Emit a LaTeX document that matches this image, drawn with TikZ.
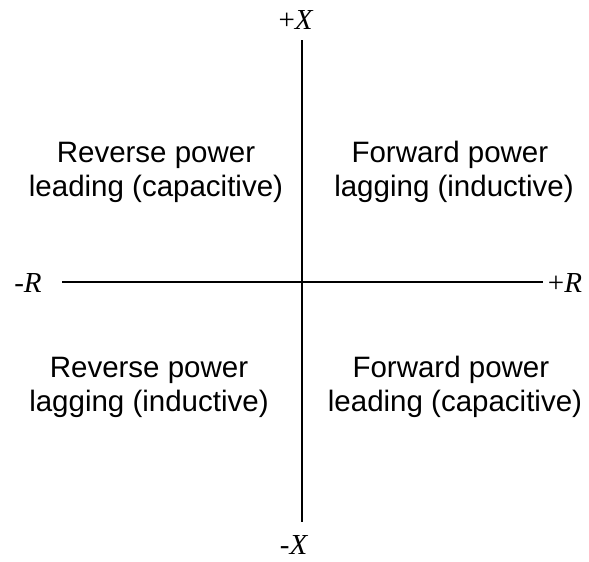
\documentclass[tikz,border=0pt]{standalone}
\usepackage{fontspec}
\setmainfont{Liberation Serif}
\newfontfamily\quadfont{Liberation Sans}
\begin{document}
\begin{tikzpicture}[x=1pt,y=-1pt,
  axisline/.style={line width=1.6pt,black},
  axislabel/.style={inner sep=0pt,font=\fontsize{29}{34}\selectfont},
  quadtext/.style={inner sep=0pt,align=center,font=\quadfont\fontsize{29.5}{34}\selectfont}]
\useasboundingbox (0,0) rectangle (589,562);
\coordinate (top) at (302,40);
\coordinate (bottom) at (302,522);
\coordinate (left) at (62,282);
\coordinate (right) at (543,282);
\draw[axisline] (top) -- (bottom);
\draw[axisline] (left) -- (right);
\node[axislabel] (px) at (296,20) {+\textit{X}};
\node[axislabel] (mx) at (294,545) {-\textit{X}};
\node[axislabel] (mr) at (28,283) {-\textit{R}};
\node[axislabel] (pr) at (565,283) {+\textit{R}};
\node[quadtext] (tl) at (156,172) {Reverse power\\leading (capacitive)};
\node[quadtext] (tr) at (454,172) {Forward power\hspace*{0.28em}\\lagging (inductive)};
\node[quadtext] (bl) at (149,387) {Reverse power\\lagging (inductive)};
\node[quadtext] (br) at (455,387) {Forward power\hspace*{0.28em}\\leading (capacitive)};
\end{tikzpicture}
\end{document}
